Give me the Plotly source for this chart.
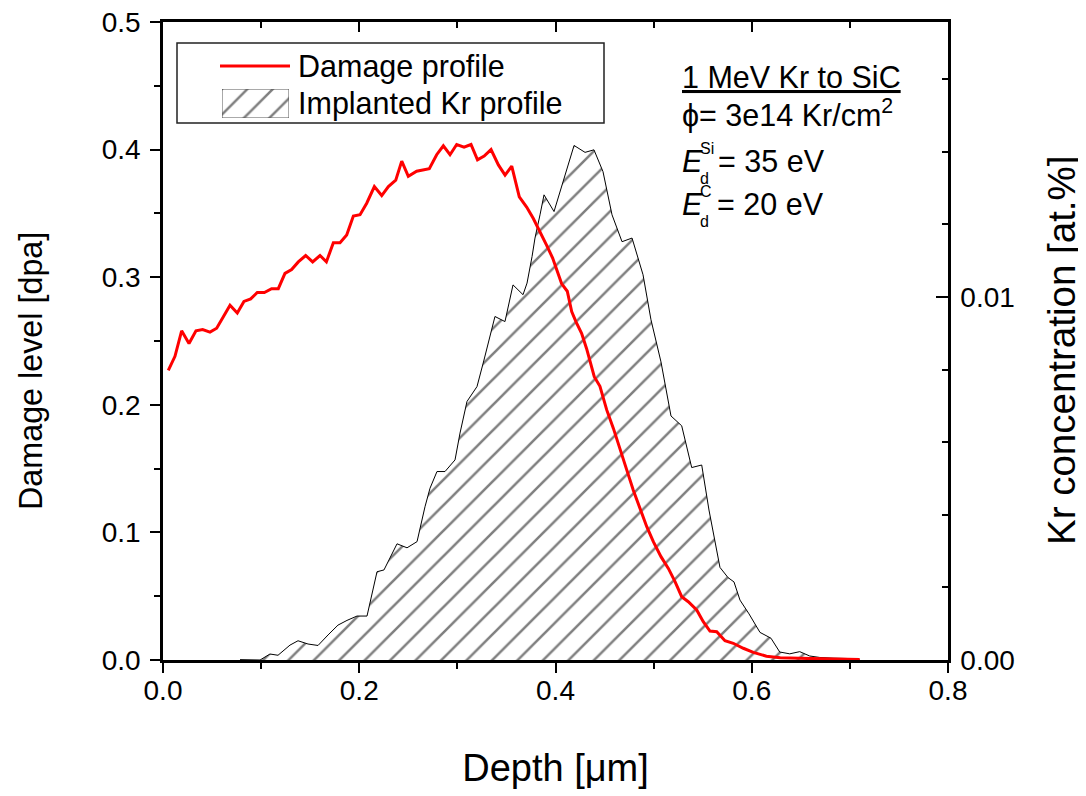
import plotly.graph_objects as go

# ---------------- data ----------------
damage_depth = [0.0054, 0.0122, 0.0190, 0.0265, 0.0336, 0.0404, 0.0479, 0.0547, 0.0615, 0.0683,
                0.0757, 0.0825, 0.0894, 0.0961, 0.1033, 0.1107, 0.1175, 0.1243, 0.1311, 0.1379,
                0.1454, 0.1525, 0.1600, 0.1665, 0.1736, 0.1804, 0.1872, 0.1940, 0.2008, 0.2076,
                0.2154, 0.2229, 0.2297, 0.2372, 0.2433, 0.2500, 0.2585, 0.2653, 0.2714, 0.2789,
                0.2857, 0.2925, 0.2993, 0.3068, 0.3139, 0.3205, 0.3273, 0.3343, 0.3418, 0.3486,
                0.3554, 0.3631, 0.3706, 0.3774, 0.3842, 0.3910, 0.3971, 0.4029, 0.4062, 0.4120,
                0.4165, 0.4209, 0.4266, 0.4317, 0.4358, 0.4395, 0.4453, 0.4522, 0.4590, 0.4657,
                0.4726, 0.4793, 0.4860, 0.4930, 0.4997, 0.5075, 0.5150, 0.5218, 0.5286, 0.5353,
                0.5439, 0.5506, 0.5574, 0.5643, 0.5727, 0.5812, 0.5914, 0.6016, 0.6150, 0.6290,
                0.6490, 0.6760, 0.6970, 0.7100]
damage_dpa = [0.227, 0.238, 0.258, 0.248, 0.258, 0.259, 0.257, 0.260, 0.269, 0.278,
              0.272, 0.281, 0.283, 0.288, 0.288, 0.291, 0.291, 0.303, 0.306, 0.312,
              0.317, 0.312, 0.317, 0.312, 0.327, 0.327, 0.333, 0.348, 0.349, 0.358,
              0.371, 0.364, 0.371, 0.376, 0.391, 0.379, 0.383, 0.384, 0.385, 0.396,
              0.403, 0.396, 0.404, 0.402, 0.404, 0.392, 0.395, 0.400, 0.388, 0.380,
              0.387, 0.363, 0.355, 0.346, 0.336, 0.325, 0.315, 0.302, 0.295, 0.289,
              0.273, 0.265, 0.256, 0.244, 0.2325, 0.222, 0.2145, 0.196, 0.1815, 0.1646,
              0.149, 0.133, 0.119, 0.1045, 0.0927, 0.081, 0.0718, 0.0614, 0.0496, 0.0457,
              0.0392, 0.030, 0.0227, 0.0222, 0.0151, 0.0131, 0.0092, 0.006, 0.003, 0.0018,
              0.0013, 0.0008, 0.0005, 0.0003]

kr_depth = [0.0785, 0.0887, 0.0989, 0.1090, 0.1172, 0.1294, 0.1376, 0.1478, 0.1580, 0.1682,
            0.1783, 0.1875, 0.1977, 0.2079, 0.2181, 0.2252, 0.2313, 0.2385, 0.2487, 0.2589,
            0.2670, 0.2721, 0.2792, 0.2874, 0.2976, 0.3027, 0.3098, 0.3200, 0.3271, 0.3333,
            0.3383, 0.3485, 0.3567, 0.3669, 0.3710, 0.3761, 0.3791, 0.3842, 0.3883, 0.3985,
            0.4025, 0.4107, 0.4189, 0.4301, 0.4392, 0.4484, 0.4576, 0.4678, 0.4780, 0.4892,
            0.4973, 0.5075, 0.5177, 0.5286, 0.5388, 0.5490, 0.5564, 0.5676, 0.5758, 0.5819,
            0.5880, 0.5972, 0.6084, 0.6196, 0.6285, 0.6387, 0.6489, 0.6591, 0.6693, 0.6828,
            0.7001, 0.7103]
kr_conc = [0.00001, 0.0, 0.0, 0.000165, 0.00013, 0.00041, 0.00053, 0.00044, 0.00040, 0.00069,
           0.00096, 0.00109, 0.00121, 0.00121, 0.00243, 0.00248, 0.00281, 0.00320, 0.00309, 0.00326,
           0.00422, 0.00473, 0.00519, 0.00519, 0.00551, 0.00625, 0.00712, 0.00753, 0.00826, 0.00891,
           0.00946, 0.00932, 0.01033, 0.01006, 0.01038, 0.01111, 0.01162, 0.01226, 0.01281, 0.01235,
           0.01272, 0.01341, 0.01417, 0.01398, 0.01405, 0.01345, 0.01226, 0.01152, 0.01162, 0.01061,
           0.00937, 0.00821, 0.00672, 0.00645, 0.00530, 0.00537, 0.00413, 0.00255, 0.00227, 0.00215,
           0.00165, 0.00127, 0.00076, 0.00060, 0.00022, 0.00017, 0.00023, 0.00011, 0.00007, 0.00005,
           0.00004, 0.0]

x_ticks = [0.0, 0.2, 0.4, 0.6, 0.8]
left_ticks = [0.0, 0.1, 0.2, 0.3, 0.4, 0.5]
right_ticks = [0.00, 0.01]

series_names = ["Damage profile", "Implanted Kr profile"]

FONT = "Liberation Sans, Arial, sans-serif"
HATCH = dict(shape="/", fgcolor="black", bgcolor="white", size=18, solidity=0.14)

# page offset of the plotly div (body margin) is 8px; screen coordinates below
OFF = 8
W, H = 1086, 796
X0S, X1S, Y0S, Y1S = 163, 948, 22, 660   # plot area on screen
L, T = X0S - OFF, Y0S - OFF
pw, ph = X1S - X0S, Y1S - Y0S
R, B = W - L - pw, H - T - ph


def px(xp):
    return (xp - X0S) / pw


def py(yp):
    return (Y1S - yp) / ph


fig = go.Figure()

# Kr profile (hatched) on the right axis
fig.add_trace(go.Scatter(
    x=kr_depth, y=kr_conc, mode="lines", name=series_names[1],
    line=dict(color="black", width=1), fill="tozeroy", fillcolor="white",
    fillpattern=HATCH, yaxis="y", xaxis="x", showlegend=False))

# Damage profile on the left axis (drawn on top)
fig.add_trace(go.Scatter(
    x=damage_depth, y=damage_dpa, mode="lines", name=series_names[0],
    line=dict(color="#ff0000", width=3), yaxis="y2", xaxis="x", showlegend=False))

# dummy trace so xaxis2 (top frame) is rendered
fig.add_trace(go.Scatter(x=[0], y=[0], xaxis="x2", yaxis="y", mode="markers",
                         marker=dict(opacity=0), showlegend=False, hoverinfo="skip"))

# legend swatch for the hatched series, on its own hidden unit axes
sw_x0, sw_x1, sw_y0, sw_y1 = 222, 289, 89, 118
fig.add_trace(go.Scatter(x=[0, 1, 1, 0, 0], y=[0, 0, 1, 1, 0], xaxis="x3", yaxis="y3",
                         mode="lines", fill="toself", fillcolor="white", fillpattern=HATCH,
                         line=dict(color="#555555", width=1), showlegend=False, hoverinfo="skip"))

axis_common = dict(showgrid=False, zeroline=False, showline=True, linecolor="black",
                   linewidth=2.5, tickcolor="black", tickwidth=2, ticklabeloverflow="allow",
                   tickfont=dict(family=FONT, size=28, color="black"))
hidden = dict(visible=False, showgrid=False, zeroline=False, range=[0, 1], fixedrange=True)

fig.update_layout(
    width=W, height=H,
    margin=dict(l=L, r=R, t=T, b=B, autoexpand=False),
    paper_bgcolor="white", plot_bgcolor="white",
    showlegend=False,
    xaxis=dict(range=[0, 0.8], tickvals=x_ticks, tickformat=".1f", ticks="outside", ticklen=10,
               ticklabelstandoff=-6,
               minor=dict(dtick=0.1, ticks="outside", ticklen=6, tickwidth=2, tickcolor="black"),
               title=dict(text="Depth [μm]", font=dict(family=FONT, size=38, color="black"), standoff=50),
               **axis_common),
    xaxis2=dict(range=[0, 0.8], overlaying="x", side="top", tickvals=x_ticks, showticklabels=False,
                ticks="inside", ticklen=10,
                minor=dict(dtick=0.1, ticks="inside", ticklen=6, tickwidth=2, tickcolor="black"),
                **axis_common),
    yaxis=dict(range=[0, 0.01757], side="right", tickvals=right_ticks, tickformat=".2f",
               ticks="inside", ticklen=12, ticklabelstandoff=4,
               minor=dict(dtick=0.002, ticks="inside", ticklen=6, tickwidth=2, tickcolor="black"),
               **axis_common),
    yaxis2=dict(range=[0, 0.5], overlaying="y", side="left", tickvals=left_ticks, tickformat=".1f",
                ticks="outside", ticklen=10, ticklabelstandoff=4,
                minor=dict(dtick=0.05, ticks="outside", ticklen=6, tickwidth=2, tickcolor="black"),
                **axis_common),
    xaxis3=dict(domain=[px(sw_x0), px(sw_x1)], anchor="y3", **hidden),
    yaxis3=dict(domain=[py(sw_y1), py(sw_y0)], anchor="x3", **hidden),
)

# legend frame and red legend line
fig.add_shape(type="rect", xref="paper", yref="paper", x0=px(177), x1=px(604), y0=py(123), y1=py(43),
              line=dict(color="#222222", width=1.5), fillcolor="rgba(0,0,0,0)", layer="above")
fig.add_shape(type="line", xref="paper", yref="paper", x0=px(220), x1=px(290), y0=py(66), y1=py(66),
              line=dict(color="#ff0000", width=3), layer="above")

TF = dict(family=FONT, size=30.5, color="black")
SF = dict(family=FONT, size=16, color="black")
ann = [
    dict(text=series_names[0], x=px(297), y=py(67), font=TF),
    dict(text=series_names[1], x=px(297), y=py(103), font=TF),
    dict(text="<u>1 MeV Kr to SiC</u>", x=px(681), y=py(77), font=TF),
    dict(text="ϕ= 3e14 Kr/cm<sup>2</sup>", x=px(681), y=py(113), font=TF),
    dict(text="<i>E</i>", x=px(681), y=py(161), font=TF),
    dict(text="Si", x=px(699), y=py(148), font=SF),
    dict(text="d", x=px(699), y=py(178), font=SF),
    dict(text="= 35 eV", x=px(717), y=py(161), font=TF),
    dict(text="<i>E</i>", x=px(681), y=py(204), font=TF),
    dict(text="C", x=px(699), y=py(192), font=SF),
    dict(text="d", x=px(699), y=py(221), font=SF),
    dict(text="= 20 eV", x=px(716), y=py(204), font=TF),
]
for a in ann:
    fig.add_annotation(xref="paper", yref="paper", xanchor="left", yanchor="middle",
                       showarrow=False, borderpad=0, **a)

# axis titles on the sides, positioned as in the reference
fig.add_annotation(text="Damage level [dpa]", xref="paper", yref="paper", x=px(31), y=py(371),
                   xanchor="center", yanchor="middle", textangle=-90, showarrow=False,
                   font=dict(family=FONT, size=32.3, color="black"))
fig.add_annotation(text="Kr concentration [at.%]", xref="paper", yref="paper", x=px(1061), y=py(351),
                   xanchor="center", yanchor="middle", textangle=-90, showarrow=False,
                   font=dict(family=FONT, size=38.5, color="black"))

fig.write_html("out.html")
